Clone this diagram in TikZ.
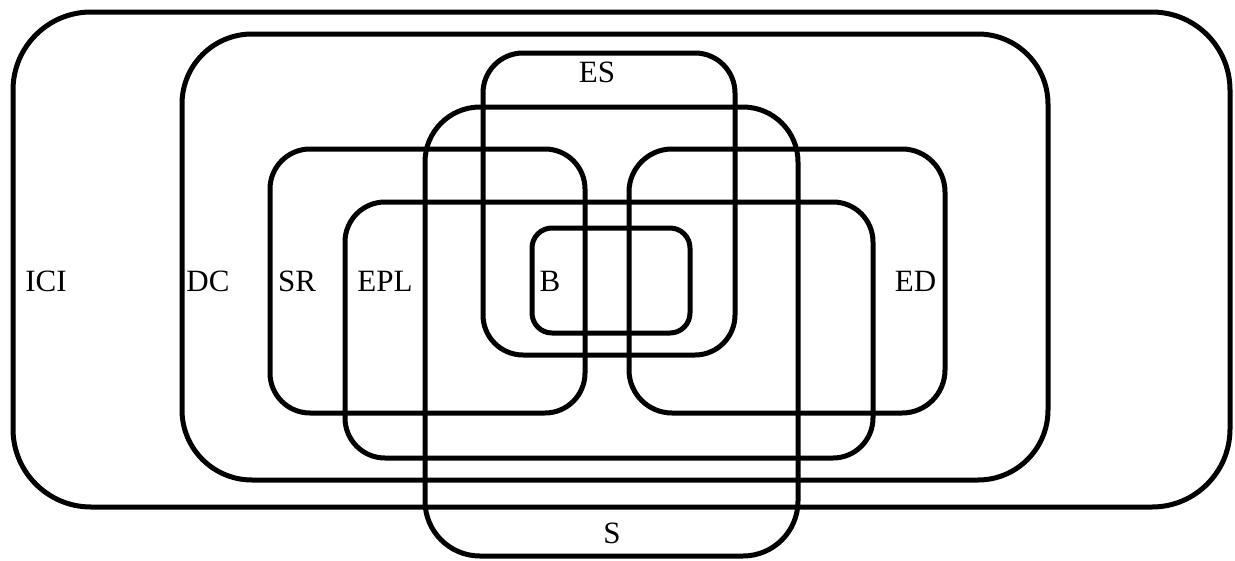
\documentclass[tikz,border=0pt]{standalone}
\usepackage{fontspec}
\setmainfont{Liberation Serif}
\begin{document}
\begin{tikzpicture}[x=1pt,y=-1pt,
  setbox/.style={draw=black, line width=5pt, rectangle, inner sep=0pt, outer sep=0pt},
  setlabel/.style={anchor=base, inner sep=0pt, font=\fontsize{31}{36}\selectfont}]
\useasboundingbox (0,0) rectangle (1235,560);
% sets as rounded rectangles
\node[setbox, minimum width=1217pt, minimum height=495pt, rounded corners=78pt] (ICI) at (621.5,259.5) {};
\node[setbox, minimum width=866pt, minimum height=446pt, rounded corners=70pt] (DC) at (615,257) {};
\node[setbox, minimum width=252pt, minimum height=302pt, rounded corners=40pt] (ES) at (609,204) {};
\node[setbox, minimum width=373pt, minimum height=449pt, rounded corners=55pt] (S) at (611.5,331.5) {};
\node[setbox, minimum width=315pt, minimum height=264pt, rounded corners=40pt] (SR) at (427.5,281) {};
\node[setbox, minimum width=316pt, minimum height=264pt, rounded corners=43pt] (ED) at (787,281) {};
\node[setbox, minimum width=528pt, minimum height=256pt, rounded corners=40pt] (EPL) at (609,330) {};
\node[setbox, minimum width=158pt, minimum height=105pt, rounded corners=20pt] (B) at (611,280.5) {};
% labels
\node[setlabel] (lICI) at (46,291.5) {ICI};
\node[setlabel] (lDC) at (208,291.5) {DC};
\node[setlabel] (lSR) at (297,291) {SR};
\node[setlabel] (lEPL) at (385,291) {EPL};
\node[setlabel] (lB) at (550,291) {B};
\node[setlabel] (lED) at (915.5,291) {ED};
\node[setlabel] (lES) at (597,82) {ES};
\node[setlabel] (lS) at (612,543) {S};
\end{tikzpicture}
\end{document}
